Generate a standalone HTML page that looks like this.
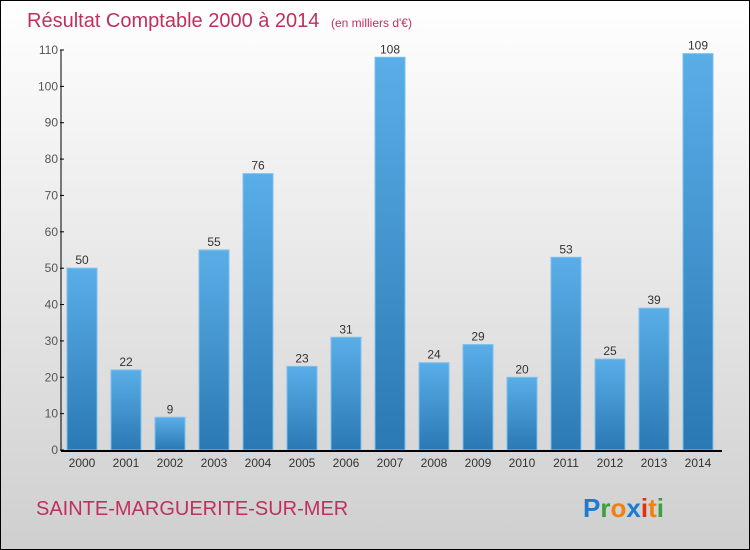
<!DOCTYPE html>
<html><head><meta charset="utf-8"><style>
body{margin:0;}
#c{width:748px;height:548px;border:1px solid #000;background:linear-gradient(#fff,#cfcfcf);position:relative;font-family:"Liberation Sans",sans-serif;}
</style></head><body>
<div id="c">
<svg width="748" height="548" style="position:absolute;left:0;top:0">
<defs><linearGradient id="bg" x1="0" y1="0" x2="0" y2="1"><stop offset="0" stop-color="#5aaee8"/><stop offset="1" stop-color="#2a78b4"/></linearGradient></defs>
<text x="26" y="26" font-size="20" fill="#c0305e">Résultat Comptable 2000 à 2014 <tspan font-size="12" dx="6">(en milliers d'€)</tspan></text>
<g id="plot"></g>
<text x="35" y="514" font-size="20" fill="#c0305e">SAINTE-MARGUERITE-SUR-MER</text>
<text x="582" y="516" font-size="26" font-weight="bold"><tspan fill="#1a7ad4">P</tspan><tspan fill="#3aa040">r</tspan><tspan fill="#f08010">o</tspan><tspan fill="#1a7ad4">x</tspan><tspan fill="#e03010">i</tspan><tspan fill="#f08010">t</tspan><tspan fill="#3aa040">i</tspan></text>
</svg></div>
<script>
const years=["2000","2001","2002","2003","2004","2005","2006","2007","2008","2009","2010","2011","2012","2013","2014"];
const values=[50,22,9,55,76,23,31,108,24,29,20,53,25,39,109];
const yTicks=[0,10,20,30,40,50,60,70,80,90,100,110];
const g=document.getElementById('plot');const NS="http://www.w3.org/2000/svg";
const y=v=>449-v*400/110;const x=i=>66+i*44;
function el(t,a){const e=document.createElementNS(NS,t);for(const k in a)e.setAttribute(k,a[k]);g.appendChild(e);return e;}
values.forEach((v,i)=>{
const r=el('rect',{x:x(i),y:y(v),width:30,height:449-y(v),fill:'url(#bg)',stroke:'#7cc0ee','stroke-width':1});


const t=el('text',{x:x(i)+15,y:y(v)-4,'font-size':12,fill:'#333','text-anchor':'middle'});t.textContent=v;


const l=el('text',{x:x(i)+15,y:466,'font-size':12,fill:'#333','text-anchor':'middle'});l.textContent=years[i];


});
yTicks.forEach(v=>{
el('line',{x1:59,x2:63,y1:y(v),y2:y(v),stroke:'#000'});
const t=el('text',{x:57,y:y(v)+4,'font-size':12,fill:'#555','text-anchor':'end'});t.textContent=v;


});
const ya=el('line',{x1:60,x2:60,y1:y(110),y2:450,stroke:'#000'});


const xa=el('line',{x1:60,x2:721,y1:450,y2:450,stroke:'#000','stroke-width':2});


</script>
</body></html>
